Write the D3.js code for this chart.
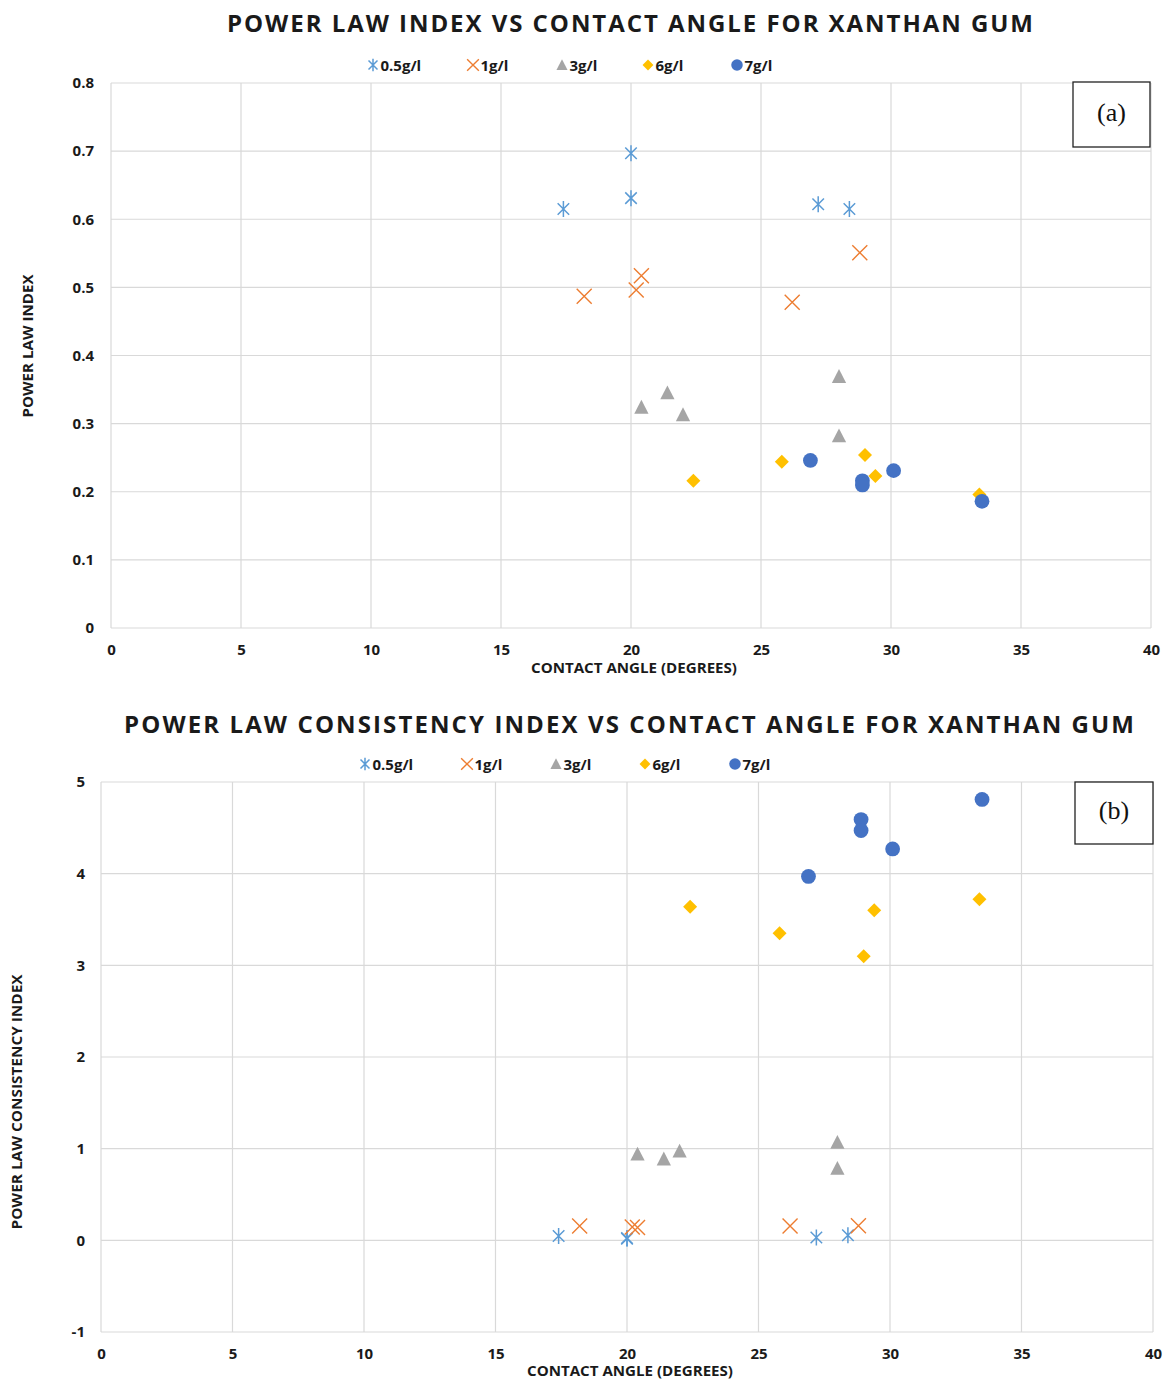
<!DOCTYPE html>
<html>
<head>
<meta charset="utf-8">
<script src="https://cdn.jsdelivr.net/npm/d3@7"></script>
<style>
  body { margin: 0; background: #fff; }
  text { font-family: "Open Sans", "Noto Sans", sans-serif; }
</style>
</head>
<body>
<script>
// series
var seriesNames = ["0.5g/l", "1g/l", "3g/l", "6g/l", "7g/l"];
var seriesColors = ["#5B9BD5", "#ED7D31", "#A5A5A5", "#FFC000", "#4472C4"];
var seriesShapes = ["asterisk", "cross", "triangle", "diamond", "circle"];

// contact angle (degrees) per series
var angle05 = [17.4, 20.0, 20.0, 27.2, 28.4];
var angle1  = [18.2, 20.2, 20.4, 26.2, 28.8];
var angle3  = [20.4, 21.4, 22.0, 28.0, 28.0];
var angle6  = [22.4, 25.8, 29.0, 29.4, 33.4];
var angle7  = [26.9, 28.9, 28.9, 30.1, 33.5];

// (a) power law index n
var nIdx05 = [0.615, 0.697, 0.631, 0.622, 0.615];
var nIdx1  = [0.487, 0.496, 0.517, 0.478, 0.551];
var nIdx3  = [0.324, 0.345, 0.313, 0.369, 0.282];
var nIdx6  = [0.216, 0.244, 0.254, 0.223, 0.196];
var nIdx7  = [0.246, 0.216, 0.210, 0.231, 0.186];

// (b) consistency index K
var kIdx05 = [0.047, 0.018, 0.025, 0.030, 0.055];
var kIdx1  = [0.157, 0.146, 0.139, 0.157, 0.160];
var kIdx3  = [0.940, 0.886, 0.973, 1.068, 0.784];
var kIdx6  = [3.64, 3.35, 3.10, 3.60, 3.72];
var kIdx7  = [3.97, 4.59, 4.47, 4.27, 4.81];

var xTicks = [0, 5, 10, 15, 20, 25, 30, 35, 40];
var yTicksA = [0, 0.1, 0.2, 0.3, 0.4, 0.5, 0.6, 0.7, 0.8];
var yTicksB = [-1, 0, 1, 2, 3, 4, 5];

var angles = [angle05, angle1, angle3, angle6, angle7];

var svg = d3.select("body").append("svg")
    .attr("width", 1165)
    .attr("height", 1380);

function marker(g, shape, color, s) {
  if (shape == "asterisk") {
    var r = 8 * s, q = r * 0.72;
    g.append("path")
      .attr("d", "M0," + (-r) + "V" + r +
                 "M" + (-q) + "," + (-q) + "L" + q + "," + q +
                 "M" + (-q) + "," + q + "L" + q + "," + (-q))
      .attr("stroke", color).attr("stroke-width", 1.5).attr("fill", "none");
  } else if (shape == "cross") {
    var c = 7.5 * s;
    g.append("path")
      .attr("d", "M" + (-c) + "," + (-c) + "L" + c + "," + c + "M" + (-c) + "," + c + "L" + c + "," + (-c))
      .attr("stroke", color).attr("stroke-width", 1.4).attr("fill", "none");
  } else if (shape == "triangle") {
    var t = 7.5 * s;
    g.append("path")
      .attr("d", "M0," + (-t) + "L" + (t * 0.95) + "," + (t * 0.85) + "L" + (-t * 0.95) + "," + (t * 0.85) + "Z")
      .attr("fill", color);
  } else if (shape == "diamond") {
    var d = 7 * s;
    g.append("path")
      .attr("d", "M0," + (-d) + "L" + d + ",0L0," + d + "L" + (-d) + ",0Z")
      .attr("fill", color);
  } else {
    g.append("circle").attr("r", 7.4 * s).attr("fill", color);
  }
}

function drawPanel(cfg) {
  var x = d3.scaleLinear().domain([0, 40]).range([cfg.left, cfg.right]);
  var y = d3.scaleLinear().domain(cfg.yDomain).range([cfg.bottom, cfg.top]);

  // title
  svg.append("text")
    .attr("x", cfg.titleX).attr("y", cfg.titleY)
    .attr("text-anchor", "middle")
    .attr("font-size", 24).attr("font-weight", "bold")
    .attr("fill", "#1a1a1a")
    .attr("textLength", cfg.titleW).attr("lengthAdjust", "spacing")
    .text(cfg.title);

  // gridlines
  svg.append("g").selectAll("line").data(cfg.yTicks).join("line")
    .attr("x1", cfg.left).attr("x2", cfg.right)
    .attr("y1", d => y(d)).attr("y2", d => y(d))
    .attr("stroke", "#d9d9d9").attr("stroke-width", 1.2);
  svg.append("g").selectAll("line").data(xTicks).join("line")
    .attr("x1", d => x(d)).attr("x2", d => x(d))
    .attr("y1", cfg.top).attr("y2", cfg.bottom)
    .attr("stroke", "#d9d9d9").attr("stroke-width", 1.2);

  // axes (labels only)
  var ya = svg.append("g").attr("transform", "translate(" + cfg.yLabelX + ",0)")
    .call(d3.axisLeft(y).tickValues(cfg.yTicks).tickSize(0).tickPadding(0)
      .tickFormat(d => String(d)));
  ya.select(".domain").remove();
  ya.selectAll("text").attr("font-size", 15).attr("font-weight", "bold")
    .attr("fill", "#1a1a1a").style("font-family", "'Open Sans', sans-serif");

  var xa = svg.append("g").attr("transform", "translate(0," + cfg.xLabelY + ")")
    .call(d3.axisBottom(x).tickValues(xTicks).tickSize(0).tickPadding(0));
  xa.select(".domain").remove();
  xa.selectAll("text").attr("font-size", 15).attr("font-weight", "bold")
    .attr("fill", "#1a1a1a").style("font-family", "'Open Sans', sans-serif");

  // axis titles
  svg.append("text")
    .attr("x", cfg.xTitleX).attr("y", cfg.xTitleY)
    .attr("text-anchor", "middle").attr("font-size", 14.5).attr("font-weight", "bold")
    .attr("fill", "#1a1a1a")
    .attr("textLength", 206).attr("lengthAdjust", "spacingAndGlyphs")
    .text("CONTACT ANGLE (DEGREES)");
  svg.append("text")
    .attr("transform", "translate(" + cfg.yTitleX + "," + cfg.yTitleY + ") rotate(-90)")
    .attr("text-anchor", "middle").attr("font-size", 15).attr("font-weight", "bold")
    .attr("fill", "#1a1a1a")
    .attr("textLength", cfg.yTitleW).attr("lengthAdjust", "spacingAndGlyphs")
    .text(cfg.yTitle);

  // legend
  var lg = svg.append("g");
  seriesNames.forEach(function(name, i) {
    var mx = cfg.legendX[i];
    var m = lg.append("g").attr("transform", "translate(" + mx + "," + cfg.legendY + ")");
    marker(m, seriesShapes[i], seriesColors[i], 0.78);
    lg.append("text")
      .attr("x", mx + 7.5).attr("y", cfg.legendY + 5.5)
      .attr("font-size", 15).attr("font-weight", "bold").attr("fill", "#1a1a1a")
      .text(name);
  });

  // points
  cfg.values.forEach(function(vals, i) {
    var pts = vals.map(function(v, j) { return [angles[i][j], v]; });
    svg.append("g").selectAll("g").data(pts).join("g")
      .attr("transform", d => "translate(" + x(d[0]) + "," + y(d[1]) + ")")
      .each(function() { marker(d3.select(this), seriesShapes[i], seriesColors[i], 1); });
  });

  // panel tag
  svg.append("rect")
    .attr("x", cfg.boxX).attr("y", cfg.boxY).attr("width", cfg.boxW).attr("height", cfg.boxH)
    .attr("fill", "#fff").attr("stroke", "#222").attr("stroke-width", 1.3);
  svg.append("text")
    .attr("x", cfg.boxX + cfg.boxW / 2).attr("y", cfg.boxY + cfg.boxH / 2 + 6)
    .attr("text-anchor", "middle")
    .style("font-family", "'Liberation Serif', 'DejaVu Serif', serif")
    .attr("font-size", 26).attr("fill", "#111")
    .text(cfg.tag);
}

drawPanel({
  title: "POWER LAW INDEX VS CONTACT ANGLE FOR XANTHAN GUM",
  titleX: 630, titleY: 32, titleW: 806,
  left: 111, right: 1151, top: 83, bottom: 628,
  yDomain: [0, 0.8], yTicks: yTicksA,
  yLabelX: 94, xLabelY: 644,
  xTitleX: 634, xTitleY: 673,
  yTitle: "POWER LAW INDEX", yTitleW: 143, yTitleX: 33, yTitleY: 346,
  legendX: [373, 473, 562, 648, 737], legendY: 65,
  values: [nIdx05, nIdx1, nIdx3, nIdx6, nIdx7],
  boxX: 1073, boxY: 82, boxW: 77, boxH: 65, tag: "(a)"
});

drawPanel({
  title: "POWER LAW CONSISTENCY INDEX VS CONTACT ANGLE FOR XANTHAN GUM",
  titleX: 629, titleY: 733, titleW: 1010,
  left: 101, right: 1153, top: 782, bottom: 1332,
  yDomain: [-1, 5], yTicks: yTicksB,
  yLabelX: 85, xLabelY: 1348,
  xTitleX: 630, xTitleY: 1376,
  yTitle: "POWER LAW CONSISTENCY INDEX", yTitleW: 255, yTitleX: 22, yTitleY: 1102,
  legendX: [365, 467, 556, 645, 735], legendY: 764,
  values: [kIdx05, kIdx1, kIdx3, kIdx6, kIdx7],
  boxX: 1075, boxY: 782, boxW: 78, boxH: 62, tag: "(b)"
});
</script>
</body>
</html>
